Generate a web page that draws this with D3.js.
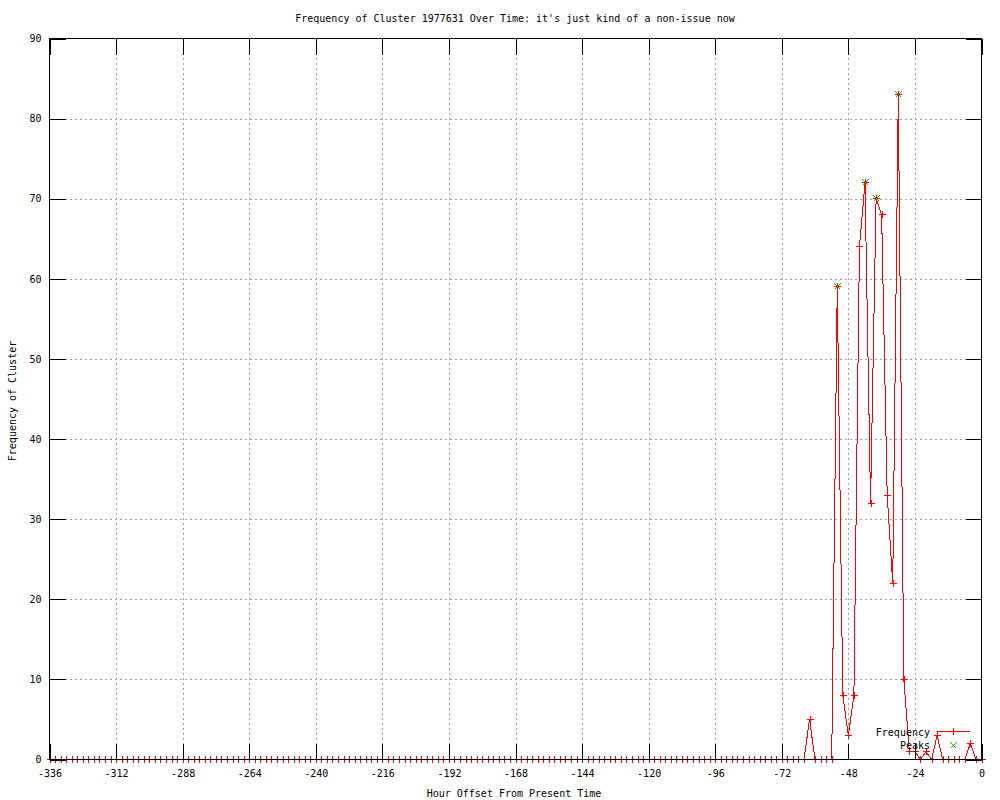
<!DOCTYPE html>
<html>
<head>
<meta charset="utf-8">
<script src="https://cdn.jsdelivr.net/npm/d3@7"></script>
<style>
  body { margin: 0; background: #fff; }
  svg { display: block; }
  text { font-family: "DejaVu Sans Mono", "Liberation Mono", monospace; font-size: 10px; fill: #000; }
</style>
</head>
<body>
<div id="chart"></div>
<script>
// hour offsets, one row = 24 hours
const hours = [
  -336, -334, -332, -330, -328, -326, -324, -322, -320, -318, -316, -314,
  -312, -310, -308, -306, -304, -302, -300, -298, -296, -294, -292, -290,
  -288, -286, -284, -282, -280, -278, -276, -274, -272, -270, -268, -266,
  -264, -262, -260, -258, -256, -254, -252, -250, -248, -246, -244, -242,
  -240, -238, -236, -234, -232, -230, -228, -226, -224, -222, -220, -218,
  -216, -214, -212, -210, -208, -206, -204, -202, -200, -198, -196, -194,
  -192, -190, -188, -186, -184, -182, -180, -178, -176, -174, -172, -170,
  -168, -166, -164, -162, -160, -158, -156, -154, -152, -150, -148, -146,
  -144, -142, -140, -138, -136, -134, -132, -130, -128, -126, -124, -122,
  -120, -118, -116, -114, -112, -110, -108, -106, -104, -102, -100, -98,
  -96, -94, -92, -90, -88, -86, -84, -82, -80, -78, -76, -74,
  -72, -70, -68, -66, -64, -62, -60, -58, -56, -54, -52, -50,
  -48, -46, -44, -42, -40, -38, -36, -34, -32, -30, -28, -26,
  -24, -22, -20, -18, -16, -14, -12, -10, -8, -6, -4, -2,
  0
];

const frequency = [
  0, 0, 0, 0, 0, 0, 0, 0, 0, 0, 0, 0,
  0, 0, 0, 0, 0, 0, 0, 0, 0, 0, 0, 0,
  0, 0, 0, 0, 0, 0, 0, 0, 0, 0, 0, 0,
  0, 0, 0, 0, 0, 0, 0, 0, 0, 0, 0, 0,
  0, 0, 0, 0, 0, 0, 0, 0, 0, 0, 0, 0,
  0, 0, 0, 0, 0, 0, 0, 0, 0, 0, 0, 0,
  0, 0, 0, 0, 0, 0, 0, 0, 0, 0, 0, 0,
  0, 0, 0, 0, 0, 0, 0, 0, 0, 0, 0, 0,
  0, 0, 0, 0, 0, 0, 0, 0, 0, 0, 0, 0,
  0, 0, 0, 0, 0, 0, 0, 0, 0, 0, 0, 0,
  0, 0, 0, 0, 0, 0, 0, 0, 0, 0, 0, 0,
  0, 0, 0, 0, 0, 5, 0, 0, 0, 0, 59, 8,
  3, 8, 64, 72, 32, 70, 68, 33, 22, 83, 10, 1,
  1, 0, 1, 0, 3, 0, 0, 0, 0, 0, 2, 0,
  0
];

const peakHours = [-52, -42, -38, -30];
const peakValues = [59, 72, 70, 83];

const xTicks = [-336, -312, -288, -264, -240, -216, -192, -168, -144, -120, -96, -72, -48, -24, 0];
const yTicks = [0, 10, 20, 30, 40, 50, 60, 70, 80, 90];

const titleText = "Frequency of Cluster 1977631 Over Time: it's just kind of a non-issue now";
const xLabel = "Hour Offset From Present Time";
const yLabel = "Frequency of Cluster";
const seriesNames = ["Frequency", "Peaks"];

const w = 1000;
const h = 800;
const plotLeft = 49.5, plotRight = 981.5, plotTop = 38.5, plotBottom = 759.5;
const tickLen = 16;
const red = "#ff0000";
const green = "#00c000";

const points = hours.map((d, i) => ({ h: d, v: frequency[i] }));
const peaks = peakHours.map((d, i) => ({ h: d, v: peakValues[i] }));

const x = d3.scaleLinear().domain([-336, 0]).range([plotLeft, plotRight]);
const y = d3.scaleLinear().domain([0, 90]).range([plotBottom, plotTop]);

const svg = d3.select("#chart")
  .append("svg")
  .attr("width", w)
  .attr("height", h);

// grid
svg.append("g")
  .attr("transform", `translate(0,${plotBottom})`)
  .call(d3.axisBottom(x).tickValues(xTicks.slice(1, -1)).tickSize(-(plotBottom - plotTop)).tickFormat(""))
  .call(g => g.select(".domain").remove())
  .selectAll("line")
  .attr("stroke", "#a0a0a0")
  .attr("stroke-dasharray", "2,3")
  .attr("shape-rendering", "crispEdges");

svg.append("g")
  .attr("transform", `translate(${plotLeft},0)`)
  .call(d3.axisLeft(y).tickValues(yTicks.slice(1, -1)).tickSize(-(plotRight - plotLeft)).tickFormat(""))
  .call(g => g.select(".domain").remove())
  .selectAll("line")
  .attr("stroke", "#a0a0a0")
  .attr("stroke-dasharray", "2,3")
  .attr("shape-rendering", "crispEdges");

// frequency line
const line = d3.line()
  .x(d => x(d.h))
  .y(d => y(d.v));

svg.append("path")
  .datum(points)
  .attr("d", line)
  .attr("fill", "none")
  .attr("stroke", red)
  .attr("stroke-width", 1)
  .attr("shape-rendering", "crispEdges");

// + and x markers
const plus = (cx, cy) => `M${cx - 3.5},${cy}H${cx + 3.5}M${cx},${cy - 3.5}V${cy + 3.5}`;
const cross = (cx, cy) => `M${cx - 3},${cy - 3}L${cx + 3},${cy + 3}M${cx - 3},${cy + 3}L${cx + 3},${cy - 3}`;

svg.append("g")
  .selectAll("path")
  .data(points)
  .enter()
  .append("path")
  .attr("d", d => plus(Math.round(x(d.h)) + 0.5, Math.round(y(d.v) - 0.5) + 0.5))
  .attr("stroke", red)
  .attr("fill", "none")
  .attr("shape-rendering", "crispEdges");

// peaks
svg.append("g")
  .selectAll("path")
  .data(peaks)
  .enter()
  .append("path")
  .attr("d", d => cross(Math.round(x(d.h)) + 0.5, Math.round(y(d.v) - 0.5) + 0.5))
  .attr("stroke", green)
  .attr("fill", "none")
  .attr("shape-rendering", "crispEdges");

// border
svg.append("rect")
  .attr("x", plotLeft)
  .attr("y", plotTop)
  .attr("width", plotRight - plotLeft)
  .attr("height", plotBottom - plotTop)
  .attr("fill", "none")
  .attr("stroke", "#000")
  .attr("shape-rendering", "crispEdges");

// axes with inward ticks
const styleAxis = g => {
  g.select(".domain").remove();
  g.selectAll("line").attr("stroke", "#000").attr("shape-rendering", "crispEdges");
  g.attr("font-family", null).attr("font-size", null);
};

svg.append("g")
  .attr("transform", `translate(0,${plotBottom})`)
  .call(d3.axisBottom(x).tickValues(xTicks).tickSize(-tickLen).tickPadding(10).tickFormat(d => String(d)))
  .call(styleAxis);

svg.append("g")
  .attr("transform", `translate(0,${plotTop})`)
  .call(d3.axisTop(x).tickValues(xTicks).tickSize(-tickLen).tickFormat(""))
  .call(styleAxis);

svg.append("g")
  .attr("transform", `translate(${plotLeft},0)`)
  .call(d3.axisLeft(y).tickValues(yTicks).tickSize(-tickLen).tickPadding(8).tickFormat(d => String(d)))
  .call(styleAxis);

svg.append("g")
  .attr("transform", `translate(${plotRight},0)`)
  .call(d3.axisRight(y).tickValues(yTicks).tickSize(-tickLen).tickFormat(""))
  .call(styleAxis);

// titles
svg.append("text")
  .attr("x", 515)
  .attr("y", 22)
  .attr("text-anchor", "middle")
  .text(titleText);

svg.append("text")
  .attr("x", 514)
  .attr("y", 797)
  .attr("text-anchor", "middle")
  .text(xLabel);

svg.append("text")
  .attr("transform", "translate(16,401) rotate(-90)")
  .attr("text-anchor", "middle")
  .text(yLabel);

// legend
const legend = svg.append("g").attr("id", "legend");

legend.append("text")
  .attr("x", 930)
  .attr("y", 736)
  .attr("text-anchor", "end")
  .text(seriesNames[0]);

legend.append("line")
  .attr("x1", 937)
  .attr("x2", 970)
  .attr("y1", 731.5)
  .attr("y2", 731.5)
  .attr("stroke", red)
  .attr("stroke-width", 1)
  .attr("shape-rendering", "crispEdges");

legend.append("path")
  .attr("d", plus(953.5, 731.5))
  .attr("stroke", red)
  .attr("stroke-width", 1)
  .attr("fill", "none")
  .attr("shape-rendering", "crispEdges");

legend.append("text")
  .attr("x", 930)
  .attr("y", 749)
  .attr("text-anchor", "end")
  .text(seriesNames[1]);

legend.append("path")
  .attr("d", cross(953.5, 745.5))
  .attr("stroke", green)
  .attr("stroke-width", 1)
  .attr("fill", "none")
  .attr("shape-rendering", "crispEdges");
</script>
</body>
</html>
